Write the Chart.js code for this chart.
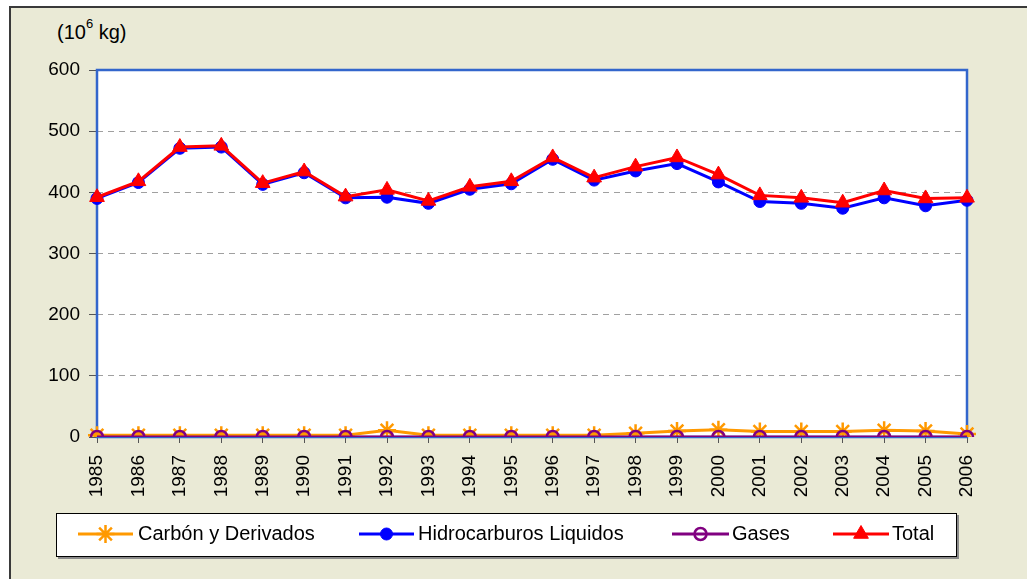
<!DOCTYPE html>
<html>
<head>
<meta charset="utf-8">
<script src="https://cdn.jsdelivr.net/npm/chart.js@4"></script>
<style>
  html, body { margin: 0; padding: 0; background: #ffffff; width: 1027px; height: 579px; overflow: hidden; }
  #frame { position: absolute; left: 9px; top: 6px; width: 1030px; height: 590px; background: #EAEAD6;
           border-left: 2px solid #3a3a3a; border-top: 2px solid #3a3a3a; }
  #unit { position: absolute; left: 57px; top: 20px; font-family: "Liberation Sans", Arial, sans-serif;
          font-size: 20px; color: #000; line-height: 24px; }
  #unit sup { font-size: 13px; position: relative; top: -2px; vertical-align: top; line-height: 12px; }
  #wrap { position: absolute; left: 0; top: 0; width: 1027px; height: 579px; }
</style>
</head>
<body>
<div id="frame"></div>
<div id="unit">(10<sup>6</sup> kg)</div>
<div id="wrap"><canvas id="c" width="1027" height="579"></canvas></div>
<script>
const years = ['1985','1986','1987','1988','1989','1990','1991','1992','1993','1994','1995',
               '1996','1997','1998','1999','2000','2001','2002','2003','2004','2005','2006'];
const carbon = [3,3,3,3,3,3,3,11,3,3,3,3,3,6,10,12,9,9,9,11,10,5];
const hidro  = [390,416,472,474,413,432,391,392,382,405,414,454,420,435,447,417,385,382,374,391,378,387];
const gases  = [0,0,0,0,0,0,0,0,0,0,0,0,0,0,0,0,0,0,0,0,0,0];
const total  = [392,418,474,476,415,434,393,404,386,409,418,457,424,442,457,429,395,391,383,403,390,391];
const yTicks = [0,100,200,300,400,500,600];
const seriesNames = ['Carbón y Derivados','Hidrocarburos Liquidos','Gases','Total'];

const FONT = '"Liberation Sans", Arial, sans-serif';

const plotBg = {
  id: 'plotBg',
  beforeDraw(chart) {
    const {ctx, chartArea: a} = chart;
    ctx.save();
    ctx.fillStyle = '#ffffff';
    ctx.fillRect(a.left, a.top, a.right - a.left, a.bottom - a.top);
    ctx.restore();
  },
  beforeDatasetsDraw(chart) {
    const {ctx, chartArea: a} = chart;
    ctx.save();
    ctx.strokeStyle = '#3366CC';
    ctx.lineWidth = 2.5;
    ctx.strokeRect(a.left, a.top, a.right - a.left, a.bottom - a.top);
    ctx.restore();
  }
};

const boxLegend = {
  id: 'boxLegend',
  afterDraw(chart) {
    const ctx = chart.ctx;
    const L = 56, T = 513, R = 957, B = 557;
    ctx.save();
    ctx.fillStyle = '#8a8a8a';
    ctx.fillRect(L + 2, T + 2, R - L, B - T);
    ctx.fillStyle = '#ffffff';
    ctx.fillRect(L, T, R - L, B - T);
    ctx.strokeStyle = '#000000';
    ctx.lineWidth = 1;
    ctx.strokeRect(L + 0.5, T + 0.5, R - L - 1, B - T - 1);
    const items = [
      {x1: 78, x2: 133, tx: 138},
      {x1: 359, x2: 414, tx: 418},
      {x1: 672, x2: 729, tx: 732},
      {x1: 833, x2: 889, tx: 892}
    ];
    const cy = 534;
    chart.data.datasets.forEach((ds, i) => {
      const it = items[i];
      ctx.strokeStyle = ds.borderColor;
      ctx.lineWidth = 3;
      ctx.beginPath();
      ctx.moveTo(it.x1, cy); ctx.lineTo(it.x2, cy);
      ctx.stroke();
      ctx.fillStyle = ds.pointBackgroundColor;
      ctx.strokeStyle = ds.pointBorderColor;
      ctx.lineWidth = ds.pointBorderWidth;
      Chart.helpers.drawPoint(ctx, {
        pointStyle: ds.pointStyle, rotation: 0, radius: ds.pointRadius,
        borderWidth: ds.pointBorderWidth
      }, (it.x1 + it.x2) / 2, cy);
      ctx.fillStyle = '#000000';
      ctx.font = '20px ' + FONT;
      ctx.textBaseline = 'middle';
      ctx.textAlign = 'left';
      ctx.fillText(ds.label, it.tx, cy);
    });
    ctx.restore();
  }
};

new Chart(document.getElementById('c'), {
  type: 'line',
  data: {
    labels: years,
    datasets: [
      { label: seriesNames[0], data: carbon, order: 4,
        borderColor: '#FF9900', backgroundColor: '#FF9900', borderWidth: 3,
        pointStyle: 'star', pointRadius: 9, pointBorderWidth: 2.5,
        pointBorderColor: '#FF9900', pointBackgroundColor: '#FF9900' },
      { label: seriesNames[1], data: hidro, order: 3,
        borderColor: '#0000FF', backgroundColor: '#0000FF', borderWidth: 3,
        pointStyle: 'circle', pointRadius: 6, pointBorderWidth: 1,
        pointBorderColor: '#0000FF', pointBackgroundColor: '#0000FF' },
      { label: seriesNames[2], data: gases, order: 2,
        borderColor: '#800080', backgroundColor: 'rgba(0,0,0,0)', borderWidth: 3,
        pointStyle: 'circle', pointRadius: 6, pointBorderWidth: 2.5,
        pointBorderColor: '#800080', pointBackgroundColor: 'rgba(0,0,0,0)' },
      { label: seriesNames[3], data: total, order: 1,
        borderColor: '#FF0000', backgroundColor: '#FF0000', borderWidth: 3,
        pointStyle: 'triangle', pointRadius: 8.5, pointBorderWidth: 1,
        pointBorderColor: '#FF0000', pointBackgroundColor: '#FF0000' }
    ]
  },
  options: {
    responsive: false,
    animation: false,
    devicePixelRatio: 1,
    layout: { padding: { left: 0, top: 70, right: 60, bottom: 0 } },
    plugins: { legend: { display: false }, title: { display: false }, tooltip: { enabled: false } },
    elements: { line: { tension: 0 } },
    scales: {
      x: {
        offset: false,
        grid: { display: true, drawOnChartArea: false, tickLength: 6, tickColor: '#555555' },
        border: { display: false },
        ticks: { color: '#000', font: { family: FONT, size: 19 }, minRotation: 90, maxRotation: 90,
                 padding: 12, autoSkip: false },
        afterFit(s) { s.height = 142; }
      },
      y: {
        min: 0, max: 600,
        afterBuildTicks(s) { s.ticks = yTicks.map(v => ({value: v})); },
        grid: { color: '#A0A0A0', lineWidth: 1, tickBorderDash: [1, 0],
                tickLength: 8, tickColor: '#555555' },
        border: { display: false, dash: [6, 5] },
        ticks: { color: '#000', font: { family: FONT, size: 19 }, padding: 9 },
        afterFit(s) { s.width = 97; }
      }
    }
  },
  plugins: [plotBg, boxLegend]
});
</script>
</body>
</html>
